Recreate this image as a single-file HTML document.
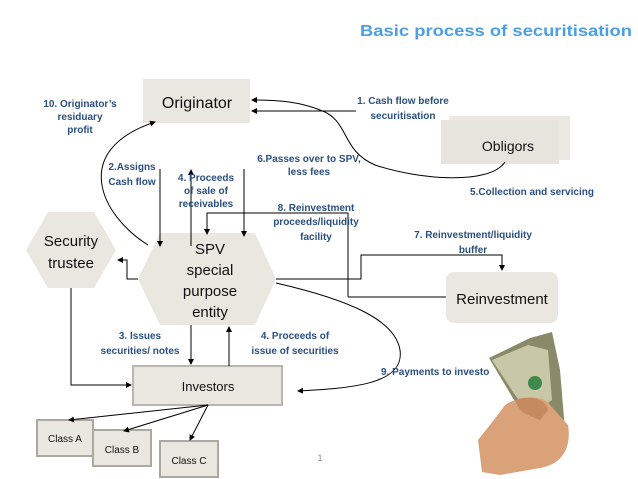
<!DOCTYPE html>
<html><head><meta charset="utf-8"><style>
html,body{margin:0;padding:0;background:#fff;}
svg{display:block;}
text{font-family:"Liberation Sans",sans-serif;}
.l{fill:#2a4f80;font-size:10px;font-weight:bold;text-anchor:middle;}
.n{fill:#111;text-anchor:middle;}
</style></head><body>
<svg width="638" height="479" viewBox="0 0 638 479" xmlns="http://www.w3.org/2000/svg">
<defs>
<marker id="a" markerWidth="6" markerHeight="6" refX="5" refY="3" orient="auto" markerUnits="userSpaceOnUse"><path d="M0,0 L6,3 L0,6 z" fill="#000"/></marker>
</defs>
<text x="632" y="36" text-anchor="end" fill="#4a9fe6" font-size="15.5" font-weight="bold" textLength="272" lengthAdjust="spacingAndGlyphs">Basic process of securitisation</text>

<!-- nodes -->
<rect x="143" y="79" width="107" height="44" fill="#e9e7df"/>
<text class="n" x="197" y="108" font-size="16">Originator</text>
<rect x="449" y="116" width="121" height="44" fill="#ebe9e2"/>
<rect x="441" y="120" width="118" height="44" fill="#e6e4dc"/>
<text class="n" x="508" y="151" font-size="14">Obligors</text>
<polygon points="26,250 48,212 94,212 116,250 94,288 48,288" fill="#e9e7df"/>
<text class="n" x="71" y="246" font-size="15">Security</text>
<text class="n" x="71" y="268" font-size="15">trustee</text>
<polygon points="138,279 160,233 255,233 276,279 255,325 160,325" fill="#e9e7df"/>
<text class="n" x="210" y="254" font-size="15">SPV</text>
<text class="n" x="210" y="275" font-size="15">special</text>
<text class="n" x="210" y="296" font-size="15">purpose</text>
<text class="n" x="210" y="317" font-size="15">entity</text>
<rect x="446" y="272" width="112" height="51" rx="8" fill="#e9e7df"/>
<text class="n" x="502" y="304" font-size="15">Reinvestment</text>
<rect x="133" y="366" width="149" height="39" fill="#e9e7df" stroke="#b8b6ae" stroke-width="2"/>
<text class="n" x="208" y="391" font-size="13">Investors</text>
<rect x="37" y="420" width="56" height="36" fill="#e9e7df" stroke="#aaa89f" stroke-width="2"/>
<text class="n" x="65" y="442" font-size="10">Class A</text>
<rect x="93" y="430" width="58" height="36" fill="#e9e7df" stroke="#aaa89f" stroke-width="2"/>
<text class="n" x="122" y="453" font-size="10">Class B</text>
<rect x="160" y="441" width="58" height="36" fill="#e9e7df" stroke="#aaa89f" stroke-width="2"/>
<text class="n" x="189" y="464" font-size="10">Class C</text>

<!-- connectors -->
<g fill="none" stroke="#000" stroke-width="1">
<line x1="160" y1="169" x2="160" y2="246" marker-end="url(#a)"/>
<line x1="191" y1="246" x2="191" y2="170" marker-end="url(#a)"/>
<line x1="244" y1="169" x2="244" y2="236" marker-end="url(#a)"/>
<path d="M348,297 L348,213 L207,213 L207,234" marker-end="url(#a)"/>
<line x1="348" y1="297" x2="446" y2="297"/>
<path d="M276,279 L361,279 L361,255 L502,255 L502,270" marker-end="url(#a)"/>
<path d="M138,279 L127,279 L127,260 L118,260" marker-end="url(#a)"/>
<path d="M71,288 L71,385 L131,385" marker-end="url(#a)"/>
<line x1="191" y1="325" x2="191" y2="364" marker-end="url(#a)"/>
<line x1="229" y1="366" x2="229" y2="327" marker-end="url(#a)"/>
<path d="M148,245 C100,215 70,150 155,122" marker-end="url(#a)"/>
<line x1="356" y1="111" x2="252" y2="111" marker-end="url(#a)"/>
<path d="M505,162 C490,185 420,180 375,165 C340,150 350,120 320,110 C300,102 280,100 252,100" marker-end="url(#a)"/>
<path d="M276,283 C350,300 395,320 400,350 C405,385 350,388 298,391" marker-end="url(#a)"/>
<line x1="208" y1="405" x2="69" y2="420" marker-end="url(#a)"/>
<line x1="208" y1="405" x2="124" y2="431" marker-end="url(#a)"/>
<line x1="208" y1="405" x2="190" y2="440" marker-end="url(#a)"/>
</g>

<!-- labels -->
<text class="l" x="80" y="107">10. Originator’s</text>
<text class="l" x="80" y="120">residuary</text>
<text class="l" x="80" y="133">profit</text>
<text class="l" x="403" y="104">1. Cash flow before</text>
<text class="l" x="403" y="119">securitisation</text>
<text class="l" x="132" y="170">2.Assigns</text>
<text class="l" x="132" y="185">Cash flow</text>
<text class="l" x="206" y="181" font-size="9">4. Proceeds</text>
<text class="l" x="206" y="194" font-size="9">of sale of</text>
<text class="l" x="206" y="207" font-size="9">receivables</text>
<text class="l" x="309" y="162" font-size="9">6.Passes over to SPV,</text>
<text class="l" x="309" y="175" font-size="9">less fees</text>
<text class="l" x="316" y="211">8. Reinvestment</text>
<text class="l" x="316" y="225">proceeds/liquidity</text>
<text class="l" x="316" y="240">facility</text>
<text class="l" x="532" y="195">5.Collection and servicing</text>
<text class="l" x="473" y="238">7. Reinvestment/liquidity</text>
<text class="l" x="473" y="253">buffer</text>
<text class="l" x="140" y="339">3. Issues</text>
<text class="l" x="140" y="354">securities/ notes</text>
<text class="l" x="295" y="339">4. Proceeds of</text>
<text class="l" x="295" y="354">issue of securities</text>
<text class="l" x="381" y="375" style="text-anchor:start">9. Payments to investo</text>
<text x="320" y="461" fill="#888" font-size="9" text-anchor="middle">1</text>

<!-- hand with money -->
<polygon points="489,358 530,338 552,332 560,370 565,430 545,450 520,410" fill="#8a8a6a"/>
<polygon points="492,360 528,345 548,350 552,400 530,415 515,395" fill="#c8c8a8"/>
<circle cx="535" cy="383" r="7" fill="#3d8a4a"/>
<path d="M505,405 C520,395 545,395 550,405 L568,425 C572,450 560,465 540,468 L500,475 L482,472 L478,440 C490,425 498,415 505,405 z" fill="#d9a279"/>
<path d="M515,400 C530,395 545,398 548,410 L540,420 C530,415 520,415 515,400 z" fill="#c58a60"/>
</svg>
</body></html>
